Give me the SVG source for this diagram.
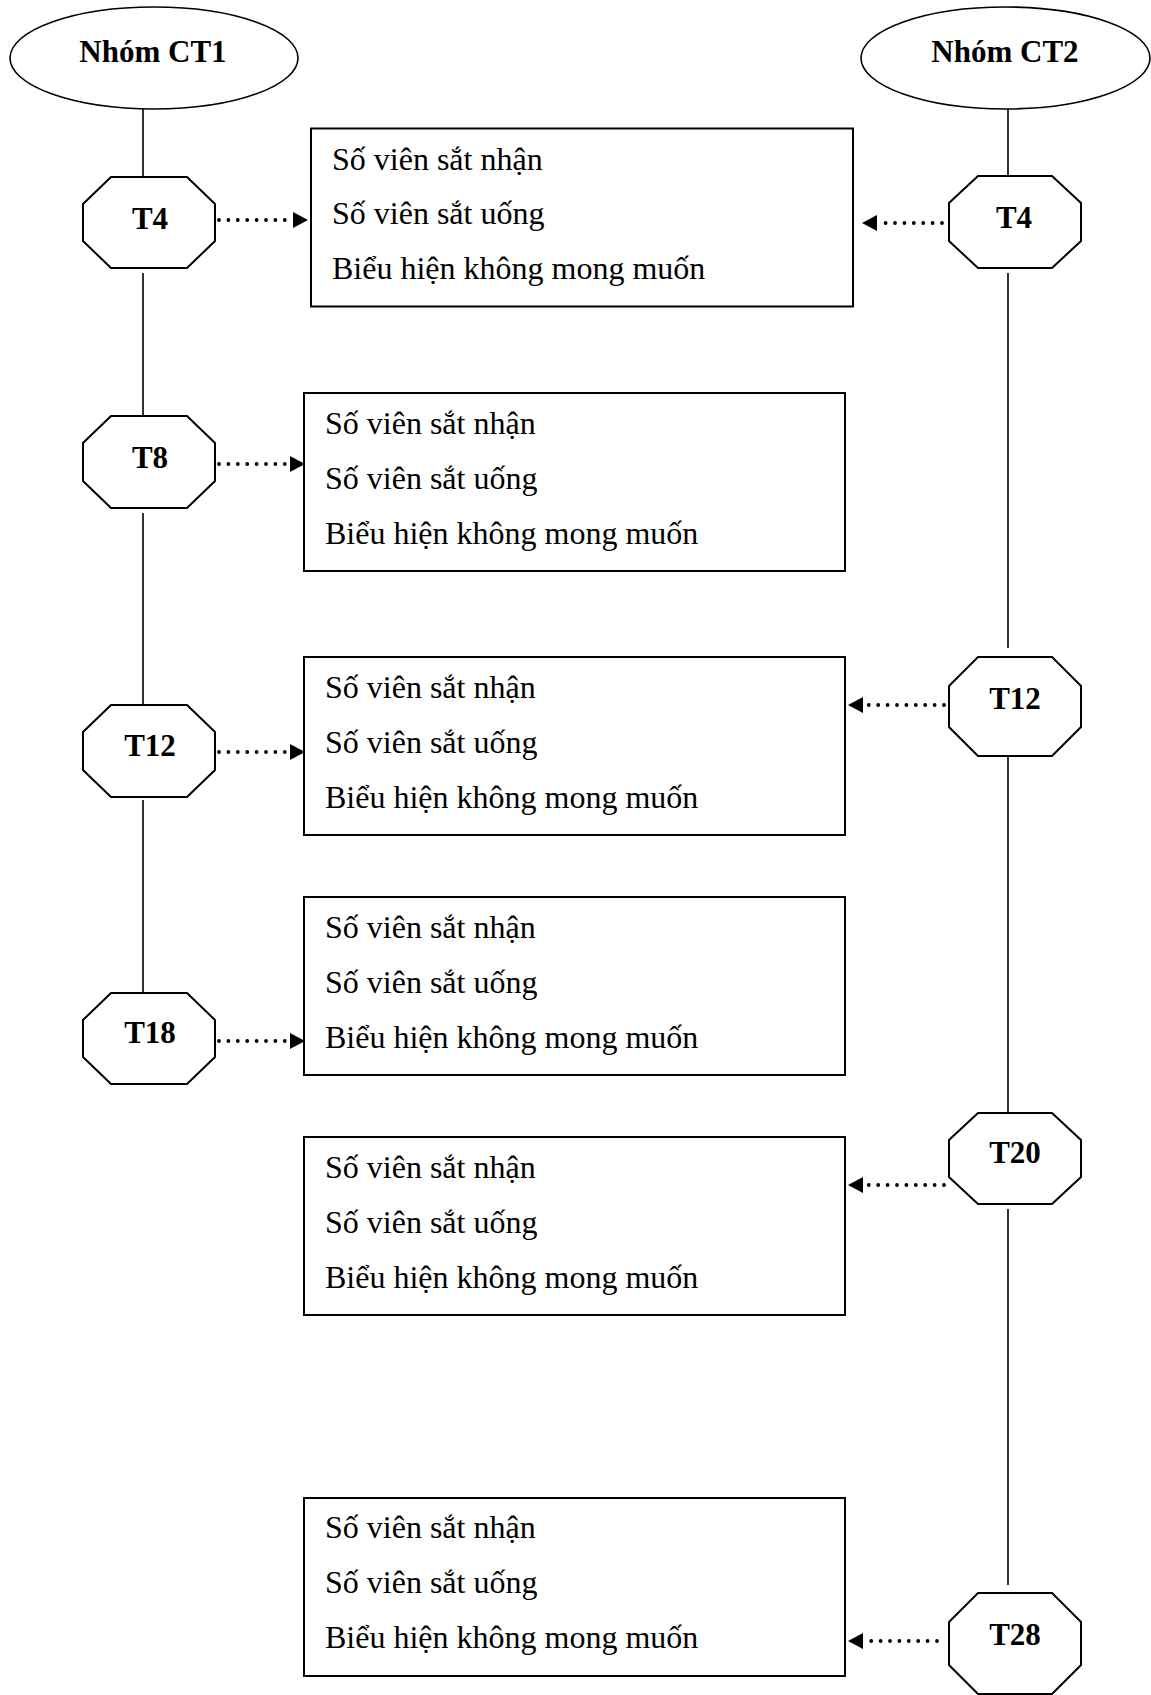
<svg xmlns="http://www.w3.org/2000/svg" width="1151" height="1695" viewBox="0 0 1151 1695">
<style>
.bg{fill:#fff}
.ell{fill:#fff;stroke:#000;stroke-width:1.6}
.oct{fill:#fff;stroke:#000;stroke-width:2}
.box{fill:#fff;stroke:#000;stroke-width:2}
.lbl{font-family:"Liberation Serif","Times New Roman",serif;font-weight:bold;font-size:31px;text-anchor:middle;fill:#000}
.txt{font-family:"Liberation Serif","Times New Roman",serif;font-size:32px;fill:#000}
.vl{stroke:#000;stroke-width:1.6;fill:none}
.dot{stroke:#000;stroke-width:3.8;stroke-linecap:round;stroke-dasharray:0 9.4;fill:none;marker-end:url(#head)}
</style>
<defs>
<marker id="head" markerUnits="userSpaceOnUse" markerWidth="16" markerHeight="17" refX="0" refY="8" orient="auto" overflow="visible">
<path d="M0,0 L15,8 L0,16 Z" fill="#000"/>
</marker>
</defs>
<rect class="bg" x="0" y="0" width="1151" height="1695"/>

<g id="connectors">
<line class="vl" x1="143" y1="105" x2="143" y2="177"/>
<line class="vl" x1="143" y1="273" x2="143" y2="416"/>
<line class="vl" x1="143" y1="513" x2="143" y2="705"/>
<line class="vl" x1="143" y1="800" x2="143" y2="993"/>
<line class="vl" x1="1008" y1="105" x2="1008" y2="176"/>
<line class="vl" x1="1008" y1="273" x2="1008" y2="648"/>
<line class="vl" x1="1008" y1="753" x2="1008" y2="1128"/>
<line class="vl" x1="1008" y1="1209" x2="1008" y2="1585"/>
<line class="dot" x1="219" y1="220" x2="293" y2="220"/>
<line class="dot" x1="219" y1="464" x2="290" y2="464"/>
<line class="dot" x1="219" y1="752" x2="290" y2="752"/>
<line class="dot" x1="219" y1="1041" x2="290" y2="1041"/>
<line class="dot" x1="942" y1="223" x2="877" y2="223"/>
<line class="dot" x1="944" y1="705" x2="863" y2="705"/>
<line class="dot" x1="944" y1="1185" x2="863" y2="1185"/>
<line class="dot" x1="937" y1="1641" x2="863" y2="1641"/>
</g>

<g id="ct1">
<ellipse class="ell" cx="154" cy="58" rx="144" ry="51"/>
<text class="lbl" x="153" y="62">Nhóm CT1</text>
</g>
<g id="ct2">
<ellipse class="ell" cx="1005.5" cy="58" rx="144.5" ry="51"/>
<text class="lbl" x="1005" y="62">Nhóm CT2</text>
</g>

<g id="ct1-t4">
<polygon class="oct" points="111,177 187,177 215,204 215,241 187,268 111,268 83,241 83,204"/>
<text class="lbl" x="150" y="229">T4</text>
</g>
<g id="ct1-t8">
<polygon class="oct" points="111,416 187,416 215,443 215,481 187,508 111,508 83,481 83,443"/>
<text class="lbl" x="150" y="468">T8</text>
</g>
<g id="ct1-t12">
<polygon class="oct" points="111,705 187,705 215,732 215,770 187,797 111,797 83,770 83,732"/>
<text class="lbl" x="150" y="756">T12</text>
</g>
<g id="ct1-t18">
<polygon class="oct" points="111,993 187,993 215,1020 215,1057 187,1084 111,1084 83,1057 83,1020"/>
<text class="lbl" x="150" y="1043">T18</text>
</g>

<g id="ct2-t4">
<polygon class="oct" points="978,176 1052,176 1081,203 1081,241 1052,268 978,268 949,241 949,203"/>
<text class="lbl" x="1014" y="228">T4</text>
</g>
<g id="ct2-t12">
<polygon class="oct" points="978,657 1052,657 1081,686 1081,727 1052,756 978,756 949,727 949,686"/>
<text class="lbl" x="1015" y="709">T12</text>
</g>
<g id="ct2-t20">
<polygon class="oct" points="978,1113 1052,1113 1081,1140 1081,1177 1052,1204 978,1204 949,1177 949,1140"/>
<text class="lbl" x="1015" y="1163">T20</text>
</g>
<g id="ct2-t28">
<polygon class="oct" points="978,1593 1052,1593 1081,1622 1081,1665 1052,1694 978,1694 949,1665 949,1622"/>
<text class="lbl" x="1015" y="1645">T28</text>
</g>

<g id="box1">
<rect class="box" x="311" y="128.5" width="542" height="178"/>
<text class="txt" x="332" y="170">Số viên sắt nhận</text>
<text class="txt" x="332" y="224">Số viên sắt uống</text>
<text class="txt" x="332" y="279">Biểu hiện không mong muốn</text>
</g>
<g id="box2">
<rect class="box" x="304" y="393" width="541" height="178"/>
<text class="txt" x="325" y="434">Số viên sắt nhận</text>
<text class="txt" x="325" y="489">Số viên sắt uống</text>
<text class="txt" x="325" y="544">Biểu hiện không mong muốn</text>
</g>
<g id="box3">
<rect class="box" x="304" y="657" width="541" height="178"/>
<text class="txt" x="325" y="698">Số viên sắt nhận</text>
<text class="txt" x="325" y="753">Số viên sắt uống</text>
<text class="txt" x="325" y="808">Biểu hiện không mong muốn</text>
</g>
<g id="box4">
<rect class="box" x="304" y="897" width="541" height="178"/>
<text class="txt" x="325" y="938">Số viên sắt nhận</text>
<text class="txt" x="325" y="993">Số viên sắt uống</text>
<text class="txt" x="325" y="1048">Biểu hiện không mong muốn</text>
</g>
<g id="box5">
<rect class="box" x="304" y="1137" width="541" height="178"/>
<text class="txt" x="325" y="1178">Số viên sắt nhận</text>
<text class="txt" x="325" y="1233">Số viên sắt uống</text>
<text class="txt" x="325" y="1288">Biểu hiện không mong muốn</text>
</g>
<g id="box6">
<rect class="box" x="304" y="1498" width="541" height="178"/>
<text class="txt" x="325" y="1538">Số viên sắt nhận</text>
<text class="txt" x="325" y="1593">Số viên sắt uống</text>
<text class="txt" x="325" y="1648">Biểu hiện không mong muốn</text>
</g>
</svg>
